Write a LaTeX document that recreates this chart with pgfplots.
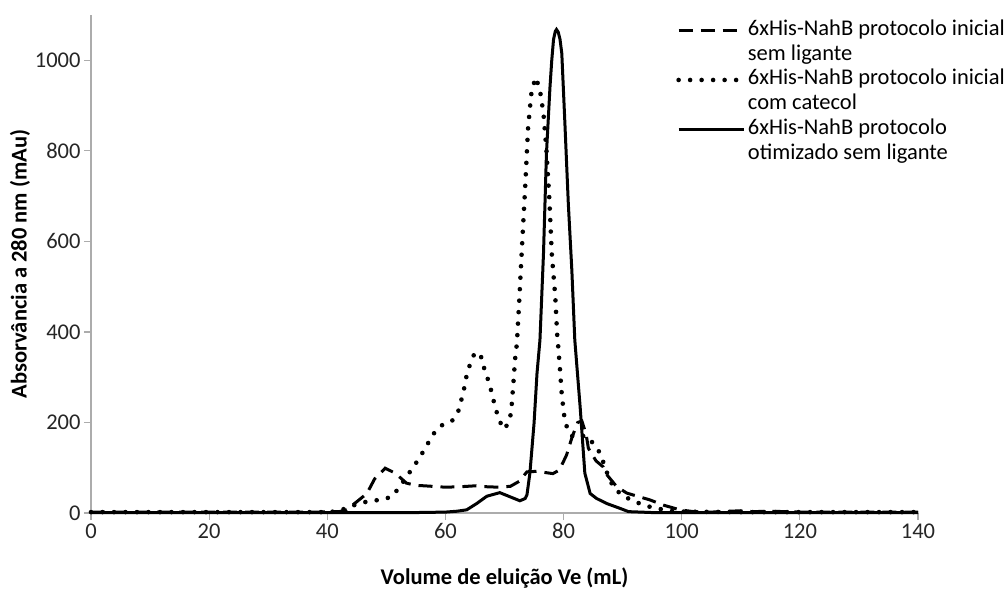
\documentclass[border=0pt]{standalone}
\usepackage{fontspec}
\setmainfont{Carlito}
\usepackage{pgfplots}
\pgfplotsset{compat=1.18}
\begin{document}
\begin{tikzpicture}
\begin{axis}[
  scale only axis, width=827pt, height=498pt,
  xmin=0, xmax=140, ymin=0, ymax=1100,
  clip=false,
  axis x line=bottom, axis y line=left,
  axis line style={-, draw=gray!65, line width=1.3pt},
  xtick={0,20,...,140}, ytick={0,200,...,1000},
  tick align=outside, major tick length=7pt,
  tick style={draw=gray!65, line width=1.2pt},
  /pgf/number format/assume math mode=true,
  /pgf/number format/1000 sep={},
  tick label style={font=\fontsize{22.5}{26}\selectfont, text=black!85},
  xlabel={\bfseries Volume de eluição Ve (mL)},
  ylabel={\bfseries Absorvância a 280 nm (mAu)},
  label style={font=\fontsize{22.5}{26}\selectfont},
  xlabel style={at={(axis description cs:0.5,-0.1305)}, anchor=center},
  ylabel style={at={(axis description cs:-0.0859,0.5)}, anchor=center},
  legend style={at={(rel axis cs:0.7075,0.996)}, anchor=north west, draw=none, fill=none,
    font=\fontsize{22.5}{25}\selectfont, row sep=3.4pt, inner sep=0pt, column sep=0pt,
    cells={anchor=base west, inner sep=0pt, text height=16pt, text depth=6pt}},
  legend image code/.code={\draw[#1] (0pt,5pt) -- (65pt,5pt);},
]
\addplot[black, line width=3pt, dash pattern=on 14pt off 8pt] coordinates {
(0,2) (10,2) (20,2) (30,2) (38,2) (42,3) (43.3,7) (45,25) (46.7,43) (48,75) (49.8,99) (51.5,88) (53.4,66) (55,61) (56.5,60) (60,57) (62.5,58) (65,60) (67,58) (69,57) (71,59) (72.5,70) (73.8,91) (75.5,92) (77.1,89) (78.2,87) (79.3,95) (80.5,128) (81.5,170) (82.4,200) (83.1,203) (83.8,175) (84.2,143) (85.5,115) (86.7,102) (87.3,85) (89,58) (90.7,44) (92.5,37) (94.6,29) (97,17) (99.7,7) (102,3) (105,2) (110,5) (112,3) (115,4) (120,2) (130,2) (140,2)
};
\addlegendentry{6xHis-NahB protocolo inicial}
\addlegendimage{empty legend}
\addlegendentry{sem ligante}
\addplot[black, line width=4.6pt, dash pattern=on 0pt off 11.5pt, line cap=round] coordinates {
(0,2) (20,2) (40,2) (42,4) (43,10) (44.7,18) (47.2,27) (49.2,29) (50.9,36) (52.3,58) (53.4,80) (54.6,102) (55.7,124) (56.8,148) (57.8,172) (59.1,192) (60.5,200) (61.1,203) (62.2,226) (62.7,250) (63.2,277) (63.6,305) (64.2,330) (65,355) (65.6,352) (66.3,340) (66.6,316) (67.4,288) (67.9,262) (68.4,235) (69,209) (69.8,185) (70.5,195) (70.9,205) (71.2,235) (71.5,286) (71.8,341) (72.1,375) (72.5,470) (72.9,573) (73.5,720) (74,853) (74.6,934) (75.3,962) (76,934) (76.6,882) (77.1,801) (77.6,691) (78,573) (78.6,477) (78.9,397) (79.1,367) (79.4,316) (79.7,260) (80.2,205) (80.8,180) (81.6,168) (82.5,170) (83.9,170) (85,154) (86.2,132) (87,102) (87.6,80) (88.4,58) (89.8,40) (92,25) (95,12) (98,5) (100,3) (110,2) (140,2)
};
\addlegendentry{6xHis-NahB protocolo inicial}
\addlegendimage{empty legend}
\addlegendentry{com catecol}
\addplot[black, line width=3pt] coordinates {
(0,1) (20,1) (40,1) (55,1) (60,2) (62,4) (63.6,7) (65.3,21) (67,37) (69.2,45) (70.9,36) (72.6,27) (73.5,32) (73.8,40) (74.3,88) (75,198) (75.5,308) (76,382) (76.6,573) (77.1,794) (77.7,941) (78,1000) (78.3,1046) (78.6,1064) (78.8,1068) (79.1,1062) (79.4,1046) (79.7,1015) (80.2,868) (80.8,684) (81.4,536) (81.9,382) (82.8,235) (83.6,88) (84.5,43) (85.6,32) (87.3,21) (89.6,10) (91,3) (95,1) (100,1) (140,1)
};
\addlegendentry{6xHis-NahB protocolo}
\addlegendimage{empty legend}
\addlegendentry{otimizado sem ligante}
\coordinate (o) at (rel axis cs:0,0);
\end{axis}
\path (o) ++(-91pt,-76pt) rectangle ++(1008pt,589pt);
\end{tikzpicture}
\end{document}
